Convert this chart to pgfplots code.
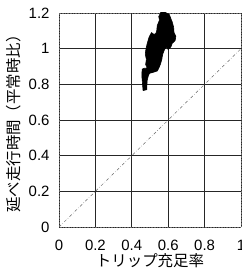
\documentclass[border=0pt]{standalone}
\usepackage{fontspec}
\setmainfont{Liberation Sans}
\newfontfamily\jp{Noto Sans CJK JP}
\usepackage{pgfplots}
\pgfplotsset{compat=1.18}
\begin{document}
\begin{tikzpicture}
\begin{axis}[
  name=ax,
  scale only axis,
  width=182bp, height=214bp,
  xmin=0, xmax=1, ymin=0, ymax=1.2,
  xtick={0,0.2,0.4,0.6,0.8,1},
  ytick={0,0.2,0.4,0.6,0.8,1,1.2},
  xticklabels={0,0.2,0.4,0.6,0.8,1},
  yticklabels={0,0.2,0.4,0.6,0.8,1,1.2},
  major tick length=0pt,
  grid=major,
  major grid style={black!85, line width=0.7pt},
  axis line style={black!60, line width=0.6pt, densely dotted},
  /pgf/number format/assume math mode=true,
  tick label style={font=\fontsize{15}{17}\selectfont},
  xticklabel style={yshift=-10bp},
  yticklabel style={xshift=-6bp},
  xlabel={\jp トリップ充足率},
  ylabel={\jp 延べ走行時間（平常時比）},
  label style={font=\fontsize{15.5}{18}\selectfont},
  xlabel style={yshift=4bp},
  ylabel style={yshift=1bp},
]
\addplot[black!60, dash dot, line width=0.5pt] coordinates {(0,0) (1,1)};
\addplot[fill=black, draw=black, line width=0.6pt] coordinates {
(0.462,0.765) (0.482,0.77) (0.484,0.82) (0.49,0.845) (0.497,0.862) (0.51,0.865)
(0.525,0.87) (0.54,0.875) (0.548,0.89) (0.558,0.915) (0.565,0.94) (0.568,0.96)
(0.572,0.975) (0.58,0.995) (0.59,1.01) (0.60,0.995) (0.615,1.01) (0.622,1.03)
(0.638,1.045) (0.642,1.07) (0.632,1.09) (0.63,1.12) (0.622,1.15) (0.614,1.17)
(0.607,1.19) (0.59,1.2) (0.578,1.21) (0.56,1.205) (0.548,1.18) (0.552,1.16)
(0.54,1.13) (0.537,1.1) (0.532,1.085) (0.522,1.08) (0.508,1.09) (0.495,1.065)
(0.485,1.03) (0.478,1.0) (0.474,0.97) (0.48,0.94) (0.476,0.91) (0.485,0.895)
(0.478,0.89) (0.468,0.89) (0.457,0.885) (0.455,0.85) (0.459,0.8)
} -- cycle;
\end{axis}
\pgfresetboundingbox
\path ([shift={(-59bp,-49bp)}]ax.south west) rectangle ([shift={(1bp,13bp)}]ax.north east);
\end{tikzpicture}
\end{document}
